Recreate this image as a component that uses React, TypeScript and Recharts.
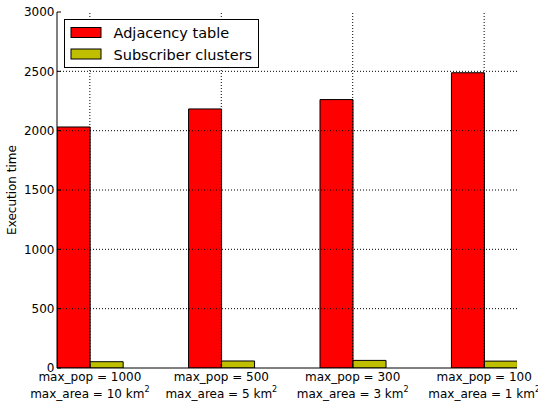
import React from "react";
import { Bar, BarChart, ReferenceLine, XAxis, YAxis } from "recharts";

// group positions on the x axis (tick sits between the two bars of a group)
const groupPositions = [0.25, 1.25, 2.25, 3.25];
const popLabels = ["max_pop = 1000", "max_pop = 500", "max_pop = 300", "max_pop = 100"];
const areaLabels = ["max_area = 10 km", "max_area = 5 km", "max_area = 3 km", "max_area = 1 km"];
const adjacencyTable = [2031, 2183, 2262, 2488];
const subscriberClusters = [53, 59, 64, 58];
const yTicks = [0, 500, 1000, 1500, 2000, 2500, 3000];
const yGrid = [500, 1000, 1500, 2000, 2500];

const data = groupPositions.map((x, i) => ({
  x,
  pop: popLabels[i],
  area: areaLabels[i],
  adjacency: adjacencyTable[i],
  subscriber: subscriberClusters[i],
}));

const font = "'DejaVu Sans', sans-serif";
const gridStyle = { stroke: "#000", strokeDasharray: "1 2", strokeWidth: 1 };

function GroupTick(props: any) {
  const { x, payload } = props;
  const i = groupPositions.indexOf(payload.value);
  if (i < 0) return null;
  return (
    <g>
      <text x={x} y={381} textAnchor="middle" fontSize={12} fontFamily={font} fill="#000">
        {popLabels[i]}
      </text>
      <text x={x} y={398} textAnchor="middle" fontSize={12} fontFamily={font} fill="#000">
        {areaLabels[i]}
        <tspan fontSize={8} dy={-6}>2</tspan>
      </text>
    </g>
  );
}

function YLabel() {
  return (
    <text
      x={16}
      y={190}
      transform="rotate(-90 16 190)"
      textAnchor="middle"
      fontSize={12}
      fontFamily={font}
      fill="#000"
    >
      Execution time
    </text>
  );
}

function LegendBox() {
  const rows = [
    { name: "Adjacency table", fill: "#ff0000" },
    { name: "Subscriber clusters", fill: "#bfbf00" },
  ];
  return (
    <svg
      width={196}
      height={50}
      style={{ position: "absolute", left: 63.5, top: 18.5, overflow: "visible" }}
    >
      <rect x={0.5} y={0.5} width={194} height={48} fill="#fff" stroke="#000" />
      {rows.map((r, i) => (
        <g key={r.name}>
          <rect x={7} y={8.5 + i * 21.5} width={30} height={10} fill={r.fill} stroke="#000" />
          <text x={49.5} y={19 + i * 21.5} fontSize={14.5} fontFamily={font} fill="#000">
            {r.name}
          </text>
        </g>
      ))}
    </svg>
  );
}

export default function App() {
  return (
    <div style={{ position: "absolute", left: 0, top: 0, width: 538, height: 402, background: "#fff" }}>
      <BarChart
        width={538}
        height={402}
        data={data}
        margin={{ top: 12, right: 21, bottom: 0, left: 0 }}
        barGap={0}
      >
        <XAxis
          dataKey="x"
          type="number"
          domain={[0, 3.5]}
          ticks={groupPositions}
          allowDataOverflow
          height={34}
          tickSize={-4}
          tickMargin={4}
          tick={<GroupTick />}
          axisLine={{ stroke: "#000" }}
          tickLine={{ stroke: "#000" }}
        />
        <XAxis
          xAxisId="top"
          dataKey="x"
          type="number"
          orientation="top"
          domain={[0, 3.5]}
          ticks={groupPositions}
          allowDataOverflow
          height={0}
          tickSize={-4}
          tick={false}
          axisLine={{ stroke: "#000" }}
          tickLine={{ stroke: "#000" }}
        />
        <YAxis
          type="number"
          domain={[0, 3000]}
          ticks={yTicks}
          allowDataOverflow
          width={57}
          tickSize={-4}
          tickMargin={6.5}
          tick={{ fontSize: 12, fontFamily: font, fill: "#000" }}
          axisLine={{ stroke: "#000" }}
          tickLine={{ stroke: "#000" }}
          label={<YLabel />}
        />
        <YAxis
          yAxisId="right"
          dataKey="adjacency"
          type="number"
          orientation="right"
          domain={[0, 3000]}
          ticks={yTicks}
          allowDataOverflow
          width={0}
          tickSize={-4}
          tick={false}
          axisLine={{ stroke: "#000" }}
          tickLine={{ stroke: "#000" }}
        />
        <Bar
          dataKey="adjacency"
          name="Adjacency table"
          fill="#ff0000"
          stroke="#000"
          strokeWidth={1}
          barSize={33}
          isAnimationActive={false}
        />
        <Bar
          dataKey="subscriber"
          name="Subscriber clusters"
          fill="#bfbf00"
          stroke="#000"
          strokeWidth={1}
          barSize={33}
          isAnimationActive={false}
        />
        {yGrid.map((v) => (
          <ReferenceLine key={`h${v}`} y={v} {...gridStyle} />
        ))}
        {groupPositions.map((v) => (
          <ReferenceLine key={`v${v}`} x={v} {...gridStyle} />
        ))}
      </BarChart>
      <LegendBox />
    </div>
  );
}
